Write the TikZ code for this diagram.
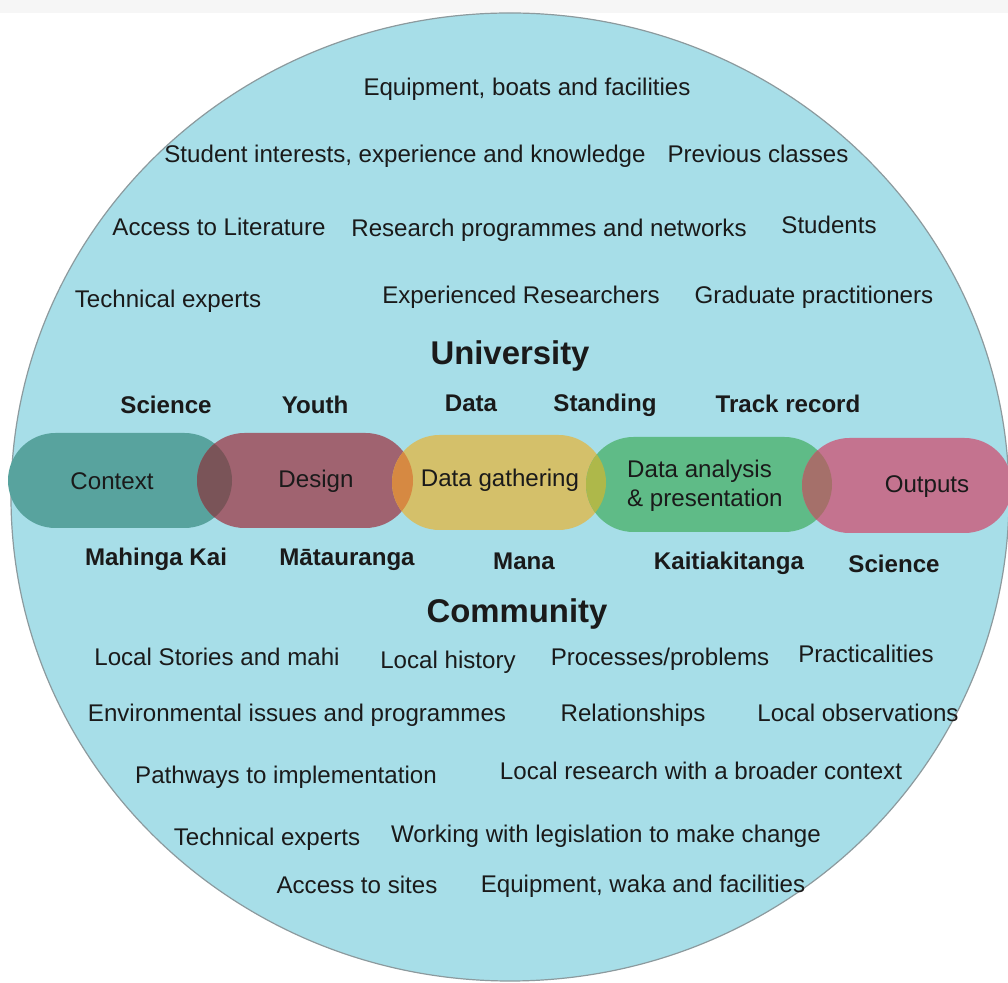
\documentclass[tikz,border=0pt]{standalone}
\usepackage{fontspec}
\setmainfont{Liberation Sans}
\definecolor{disc}{HTML}{A7DEE8}
\definecolor{rim}{HTML}{8C9A9E}
\definecolor{topband}{HTML}{F6F6F6}
\definecolor{txt}{HTML}{1A1A1A}
\definecolor{ctxcol}{HTML}{58A39E}
\definecolor{descol}{HTML}{A06370}
\definecolor{gathcol}{HTML}{D4C06A}
\definecolor{anacol}{HTML}{5FBB87}
\definecolor{outcol}{HTML}{C4738F}
\definecolor{ovone}{HTML}{7A5458}
\definecolor{ovtwo}{HTML}{D68942}
\definecolor{ovthree}{HTML}{AEB84A}
\definecolor{ovfour}{HTML}{A5706A}
\tikzset{
  lbl/.style={inner sep=0pt,text=txt,font=\fontsize{24.2}{29}\selectfont,text height=17bp,text depth=0bp},
  lblb/.style={lbl,font=\fontsize{24.2}{29}\selectfont\bfseries},
  head/.style={lbl,font=\fontsize{33}{38}\selectfont\bfseries,text height=24bp},
  pill/.style={rounded corners=47.5bp},
}
\begin{document}
\begin{tikzpicture}[line join=bevel]
\useasboundingbox (0bp,0bp) rectangle (1008bp,983bp);
\fill[white] (0bp,0bp) rectangle (1008bp,983bp);
\fill[topband] (0bp,970bp) rectangle (1008bp,983bp);
\filldraw[fill=disc,draw=rim,line width=1.2bp] (510bp,486bp) ellipse [x radius=499bp,y radius=484bp];
%% stages
\fill[pill,fill=ctxcol] (8bp,455bp) rectangle (232bp,550bp);
\fill[pill,fill=descol] (197bp,455bp) rectangle (413bp,550bp);
\fill[pill,fill=gathcol] (392bp,453bp) rectangle (606bp,548bp);
\fill[pill,fill=anacol] (586bp,451bp) rectangle (832bp,546bp);
\fill[pill,fill=outcol] (802bp,450bp) rectangle (1012bp,545bp);
%% overlaps
\begin{scope}
  \clip[pill] (8bp,455bp) rectangle (232bp,550bp);
  \fill[pill,fill=ovone] (197bp,455bp) rectangle (413bp,550bp);
\end{scope}
\begin{scope}
  \clip[pill] (197bp,455bp) rectangle (413bp,550bp);
  \fill[pill,fill=ovtwo] (392bp,453bp) rectangle (606bp,548bp);
\end{scope}
\begin{scope}
  \clip[pill] (392bp,453bp) rectangle (606bp,548bp);
  \fill[pill,fill=ovthree] (586bp,451bp) rectangle (832bp,546bp);
\end{scope}
\begin{scope}
  \clip[pill] (586bp,451bp) rectangle (832bp,546bp);
  \fill[pill,fill=ovfour] (802bp,450bp) rectangle (1012bp,545bp);
\end{scope}
%%
\node (node_context) at (112bp,502bp) [lbl] {Context};
  \node (node_design) at (316bp,504bp) [lbl] {Design};
  \node (node_gathering) at (500bp,505bp) [lbl] {Data gathering};
  \node (node_analysis) at (627bp,497bp) [lbl,anchor=west,align=left,text height=,text depth=] {Data analysis\\\& presentation};
  \node (node_outputs) at (927bp,499bp) [lbl] {Outputs};
%% university side
\node (node_equipment) at (527bp,896bp) [lbl] {Equipment, boats and facilities};
  \node (node_interests) at (405bp,829bp) [lbl] {Student interests, experience and knowledge};
  \node (node_previous) at (758bp,829bp) [lbl] {Previous classes};
  \node (node_literature) at (219bp,756bp) [lbl] {Access to Literature};
  \node (node_research) at (549bp,755bp) [lbl] {Research programmes and networks};
  \node (node_students) at (829bp,758bp) [lbl] {Students};
  \node (node_techu) at (168bp,684bp) [lbl] {Technical experts};
  \node (node_experienced) at (521bp,688bp) [lbl] {Experienced Researchers};
  \node (node_graduate) at (814bp,688bp) [lbl] {Graduate practitioners};
  \node (node_university) at (510bp,630bp) [head] {University};
  \node (node_scienceu) at (166bp,578bp) [lblb] {Science};
  \node (node_youth) at (315bp,578bp) [lblb] {Youth};
  \node (node_data) at (471bp,580bp) [lblb] {Data};
  \node (node_standing) at (605bp,580bp) [lblb] {Standing};
  \node (node_track) at (788bp,579bp) [lblb] {Track record};
%% community side
\node (node_mahinga) at (156bp,426bp) [lblb] {Mahinga Kai};
  \node (node_matauranga) at (347bp,426bp) [lblb] {Mātauranga};
  \node (node_mana) at (524bp,422bp) [lblb] {Mana};
  \node (node_kaitiaki) at (729bp,422bp) [lblb] {Kaitiakitanga};
  \node (node_sciencec) at (894bp,419bp) [lblb] {Science};
  \node (node_community) at (517bp,372bp) [head] {Community};
  \node (node_stories) at (217bp,326bp) [lbl] {Local Stories and mahi};
  \node (node_history) at (448bp,323bp) [lbl] {Local history};
  \node (node_processes) at (660bp,326bp) [lbl] {Processes/problems};
  \node (node_practical) at (866bp,329bp) [lbl] {Practicalities};
  \node (node_environment) at (297bp,270bp) [lbl] {Environmental issues and programmes};
  \node (node_relations) at (633bp,270bp) [lbl] {Relationships};
  \node (node_observations) at (858bp,270bp) [lbl] {Local observations};
  \node (node_pathways) at (286bp,208bp) [lbl] {Pathways to implementation};
  \node (node_broader) at (701bp,212bp) [lbl] {Local research with a broader context};
  \node (node_techc) at (267bp,146bp) [lbl] {Technical experts};
  \node (node_legislation) at (606bp,149bp) [lbl] {Working with legislation to make change};
  \node (node_sites) at (357bp,98bp) [lbl] {Access to sites};
  \node (node_waka) at (643bp,99bp) [lbl] {Equipment, waka and facilities};
%
\end{tikzpicture}
\end{document}
